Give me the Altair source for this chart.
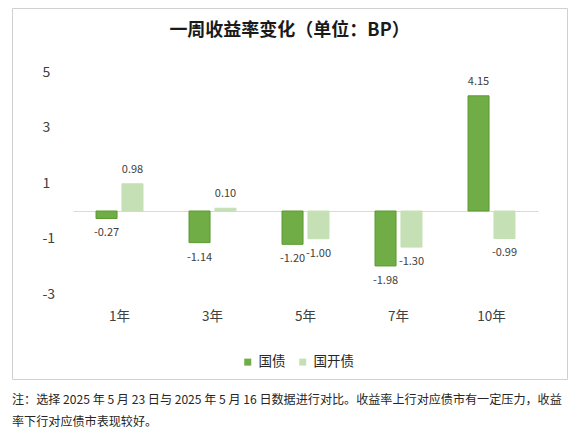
import altair as alt
import pandas as pd

tenors = ["1年", "3年", "5年", "7年", "10年"]
series = ["国债", "国开债"]
gz_change = [-0.27, -1.14, -1.20, -1.98, 4.15]
gkz_change = [0.98, 0.10, -1.00, -1.30, -0.99]
y_ticks = [5, 3, 1, -1, -3]

title_text = "一周收益率变化（单位：BP）"
note_lines = [
    "注：选择 2025 年 5 月 23 日与 2025 年 5 月 16 日数据进行对比。收益率上行对应债市有一定压力，收益",
    "率下行对应债市表现较好。",
]

rows = []
for name, vals in zip(series, [gz_change, gkz_change]):
    for t, v in zip(tenors, vals):
        rows.append({"tenor": t, "series": name, "value": v, "label": f"{v:.2f}"})
df = pd.DataFrame(rows)

FONT = "Noto Sans CJK SC"
TXT = "#404040"

base = alt.Chart(df).encode(
    x=alt.X("tenor:N", sort=tenors,
            scale=alt.Scale(range=[61, 526], paddingInner=0.495, paddingOuter=0.2475),
            axis=alt.Axis(title=None, orient="bottom", offset=-168, domainColor="#D9D9D9",
                          domainWidth=1, ticks=False, tickSize=0, labelPadding=105,
                          labelBaseline="middle", labelAngle=0, labelFontSize=13.5,
                          labelColor=TXT, labelFont=FONT, grid=False)),
    xOffset=alt.XOffset("series:N", sort=series, scale=alt.Scale(paddingInner=0.19)),
    y=alt.Y("value:Q",
            scale=alt.Scale(domain=[-3, 5], range=[286.25, 64.25], nice=False),
            axis=alt.Axis(title=None, values=y_ticks, orient="left", offset=-30,
                          labelAlign="left", domain=False, ticks=False, tickSize=0,
                          labelPadding=0, grid=False, labelFontSize=14,
                          labelExpr="'' + datum.value",
                          labelColor=TXT, labelFont=FONT)),
)

bars = base.mark_bar(strokeWidth=1).encode(
    y2=alt.datum(0),
    color=alt.Color("series:N", sort=series,
                    scale=alt.Scale(domain=series, range=["#70AD47", "#C5E0B4"]),
                    legend=alt.Legend(orient="none", legendX=229, legendY=347,
                                      direction="horizontal", title=None,
                                      symbolType="square", symbolSize=49,
                                      symbolStrokeWidth=0, labelFontSize=13.5,
                                      labelFont=FONT, labelColor="#262626",
                                      labelOffset=4, columnPadding=10, padding=0)),
    stroke=alt.Stroke("series:N", sort=series,
                      scale=alt.Scale(domain=series, range=["#5B9B2F", "#C5E0B4"]),
                      legend=None),
)

pos_labels = base.mark_text(baseline="alphabetic", dy=-11, fontSize=11,
                            font=FONT, color=TXT).encode(
    text="label:N").transform_filter("datum.value >= 0")

neg_labels = base.mark_text(baseline="top", dy=9, fontSize=11,
                            font=FONT, color=TXT).encode(
    text="label:N").transform_filter("datum.value < 0")

title = alt.Chart(pd.DataFrame({"t": [title_text]})).mark_text(
    fontSize=18, fontWeight="bold", font=FONT, color="#1a1a1a", baseline="middle"
).encode(text="t:N", x=alt.value(277.5), y=alt.value(23))

note = alt.Chart(pd.DataFrame({"t": ["\n".join(note_lines)]})).mark_text(
    fontSize=12.1, font=FONT, color="#262626", align="left", baseline="middle",
    lineBreak="\n", lineHeight=22
).encode(text="t:N", x=alt.value(0), y=alt.value(392))

chart = alt.layer(bars, pos_labels, neg_labels, title, note).properties(
    width=555, height=371, autosize="none",
    padding={"left": 4, "top": 0, "right": 2, "bottom": 56},
).configure_view(stroke="#D0D0D0", strokeWidth=1)

chart.save("out.html", embed_options={"renderer": "svg", "actions": False})
